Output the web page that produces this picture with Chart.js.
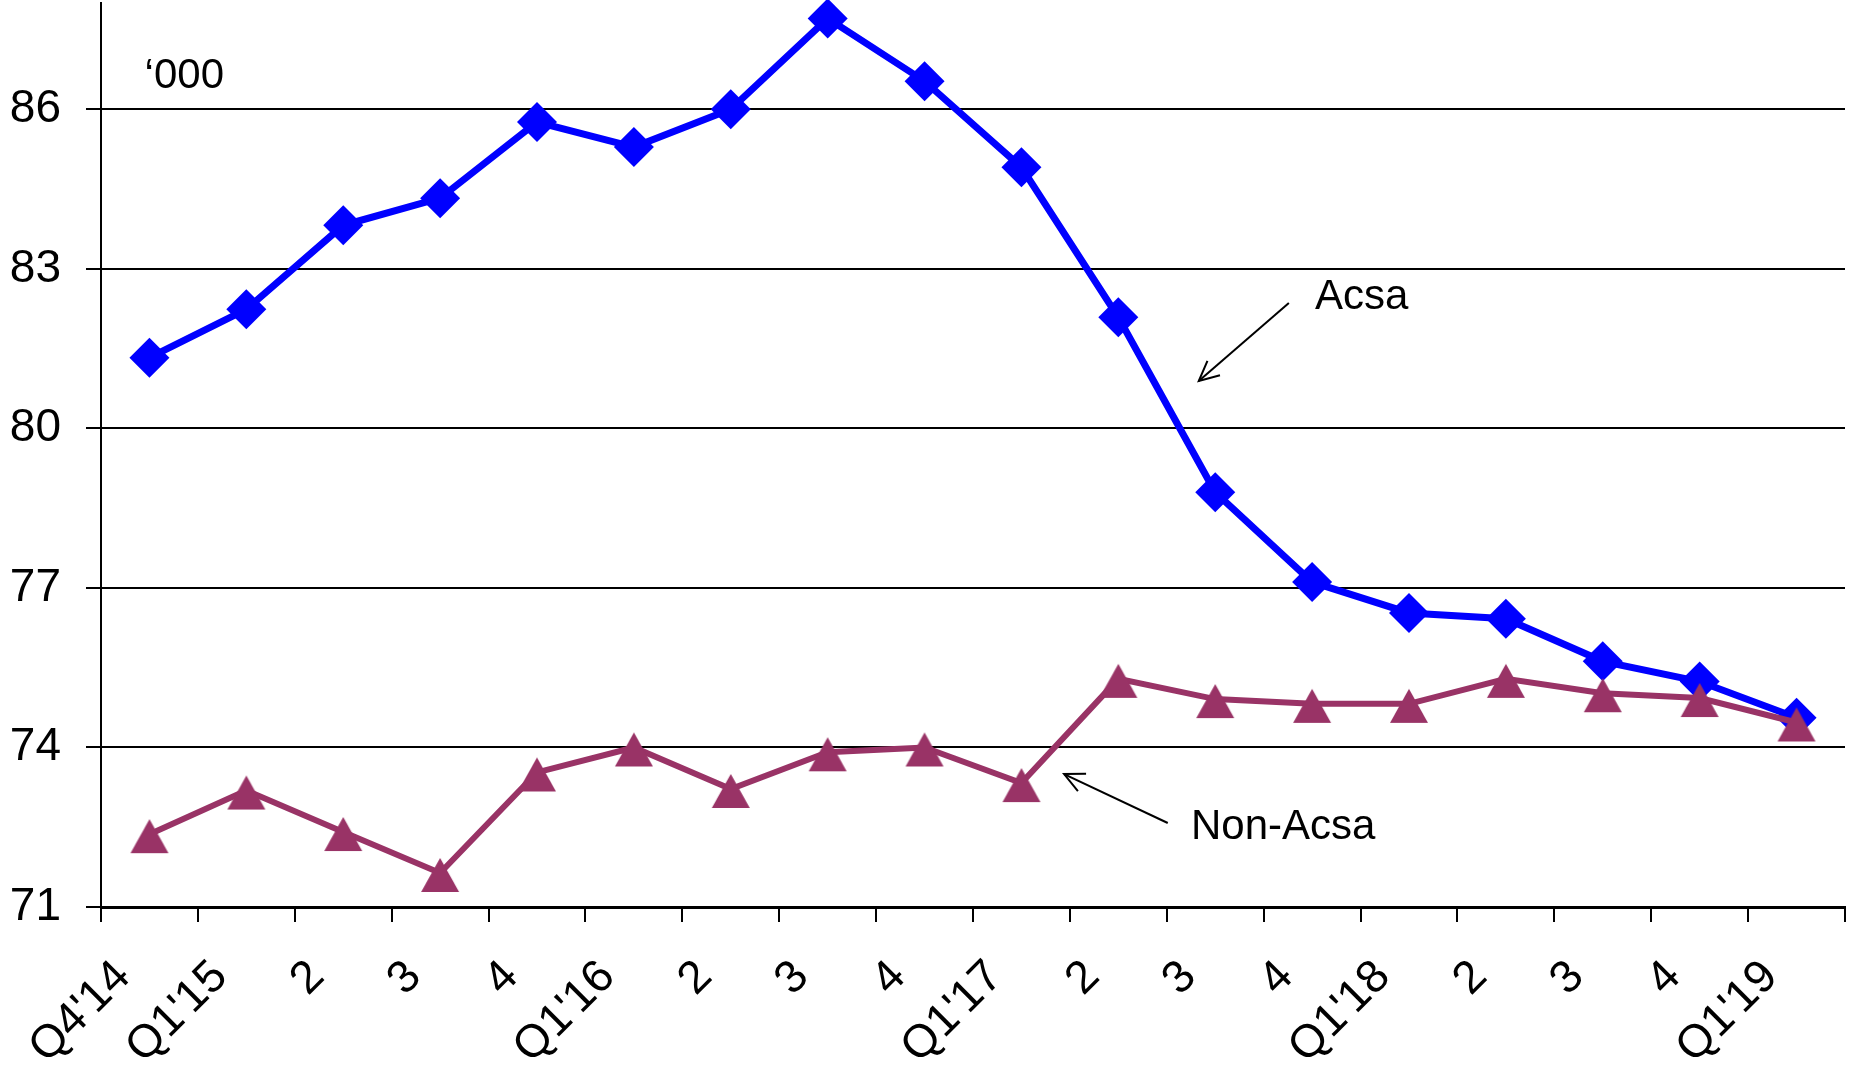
<!DOCTYPE html>
<html>
<head>
<meta charset="utf-8">
<script src="https://cdn.jsdelivr.net/npm/chart.js@4.4.1/dist/chart.umd.min.js"></script>
<style>
  html, body { margin: 0; padding: 0; background: #fff; }
  #wrap { width: 1849px; height: 1067px; }
</style>
</head>
<body>
<div id="wrap"><canvas id="chart" width="1849" height="1067"></canvas></div>
<script>
// Quarterly series, '000
const QUARTERS = ["Q4'14", "Q1'15", '2', '3', '4', "Q1'16", '2', '3', '4', "Q1'17",
  '2', '3', '4', "Q1'18", '2', '3', '4', "Q1'19"];
const ACSA = [81.33, 82.24, 83.82, 84.33, 85.76, 85.29, 86.0, 87.71, 86.53, 84.91,
  82.09, 78.8, 77.11, 76.53, 76.42, 75.62, 75.24, 74.56];
const NON_ACSA = [72.37, 73.19, 72.41, 71.64, 73.53, 74.0, 73.22, 73.91, 74.0, 73.33,
  75.29, 74.91, 74.82, 74.82, 75.29, 75.02, 74.93, 74.47];
const Y_TICKS = [71, 74, 77, 80, 83, 86];
const Y_MIN = 71;
const Y_MAX = 88;

const FONT = 'Arial, "Liberation Sans", sans-serif';
const PLUM = '#993366';

// Text notes, anchored in data space: [category index, value]
const UNIT_NOTE = { text: '\u2018000', at: [-0.05, 86.4] };
const LINE_NOTES = [
  { text: 'Acsa', at: [12.03, 82.24], from: [11.76, 82.36], to: [10.83, 80.89] },
  { text: 'Non-Acsa', at: [10.75, 72.28], from: [10.51, 72.58], to: [9.44, 73.5] },
];

// Excel-style triangle marker: sits a bit low on its point
function triangleMarker() {
  const c = document.createElement('canvas');
  c.width = 40;
  c.height = 40;
  const g = c.getContext('2d');
  g.fillStyle = PLUM;
  g.beginPath();
  g.moveTo(20, 5);
  g.lineTo(39, 39);
  g.lineTo(1, 39);
  g.closePath();
  g.fill();
  return c;
}

/** Draws the unit label and the two arrowed series labels. */
const notesPlugin = {
  id: 'notes',
  afterDraw(chart) {
    const { ctx } = chart;
    const { x, y } = chart.scales;
    const px = ([i, v]) => [x.getPixelForValue(i), y.getPixelForValue(v)];

    ctx.save();
    ctx.fillStyle = '#000';
    ctx.strokeStyle = '#000';
    ctx.font = '42px ' + FONT;
    ctx.textAlign = 'left';
    ctx.textBaseline = 'alphabetic';

    const [ux, uy] = px(UNIT_NOTE.at);
    ctx.fillText(UNIT_NOTE.text, ux, uy);

    LINE_NOTES.forEach(n => {
      const [tx, ty] = px(n.at);
      ctx.fillText(n.text, tx, ty);

      const [x0, y0] = px(n.from);
      const [x1, y1] = px(n.to);
      ctx.lineWidth = 2;
      ctx.beginPath();
      ctx.moveTo(x0, y0);
      ctx.lineTo(x1, y1);
      ctx.stroke();

      // open arrow head
      const ang = Math.atan2(y1 - y0, x1 - x0);
      const len = 22;
      const spread = 0.45;
      ctx.beginPath();
      ctx.moveTo(x1 - len * Math.cos(ang - spread), y1 - len * Math.sin(ang - spread));
      ctx.lineTo(x1, y1);
      ctx.lineTo(x1 - len * Math.cos(ang + spread), y1 - len * Math.sin(ang + spread));
      ctx.stroke();
    });
    ctx.restore();
  },
};

Chart.defaults.font.family = FONT;
Chart.defaults.color = '#000';

new Chart(document.getElementById('chart'), {
  type: 'line',
  data: {
    labels: QUARTERS,
    datasets: [
      {
        label: 'Acsa',
        data: ACSA,
        order: 2,
        borderColor: '#0000ff',
        backgroundColor: '#0000ff',
        borderWidth: 7,
        pointStyle: 'rectRot',
        pointRadius: 20,
        pointBorderWidth: 0,
        tension: 0,
        clip: false,
      },
      {
        label: 'Non-Acsa',
        data: NON_ACSA,
        order: 1,
        borderColor: PLUM,
        backgroundColor: PLUM,
        borderWidth: 6,
        pointStyle: triangleMarker(),
        pointRadius: 20,
        pointBorderWidth: 0,
        tension: 0,
        clip: false,
      },
    ],
  },
  options: {
    responsive: false,
    animation: false,
    layout: { autoPadding: false, padding: { left: 10, top: 3, right: 4, bottom: 0 } },
    plugins: {
      legend: { display: false },
      tooltip: { enabled: false },
    },
    scales: {
      x: {
        offset: true,
        grid: {
          offset: true,
          drawOnChartArea: false,
          drawTicks: true,
          tickLength: 15,
          color: '#000',
          lineWidth: 2,
        },
        border: { color: '#000', width: 3 },
        ticks: {
          autoSkip: false,
          maxRotation: 45,
          minRotation: 45,
          labelOffset: -26,
          padding: 28,
          color: '#000',
          font: { size: 46, family: FONT },
        },
        afterFit(scale) {
          scale.height = 160;
          scale.paddingLeft = 0;
          scale.paddingRight = 0;
        },
      },
      y: {
        min: Y_MIN,
        max: Y_MAX,
        grid: {
          color: '#000',
          lineWidth: 2,
          drawTicks: true,
          tickLength: 15,
        },
        border: { color: '#000', width: 2 },
        ticks: {
          padding: 25,
          color: '#000',
          font: { size: 46, family: FONT },
        },
        afterBuildTicks(scale) {
          scale.ticks = Y_TICKS.map(v => ({ value: v }));
        },
        afterFit(scale) {
          scale.width = 91;
          scale.paddingTop = 0;
          scale.paddingBottom = 0;
        },
      },
    },
  },
  plugins: [notesPlugin],
});
</script>
</body>
</html>
